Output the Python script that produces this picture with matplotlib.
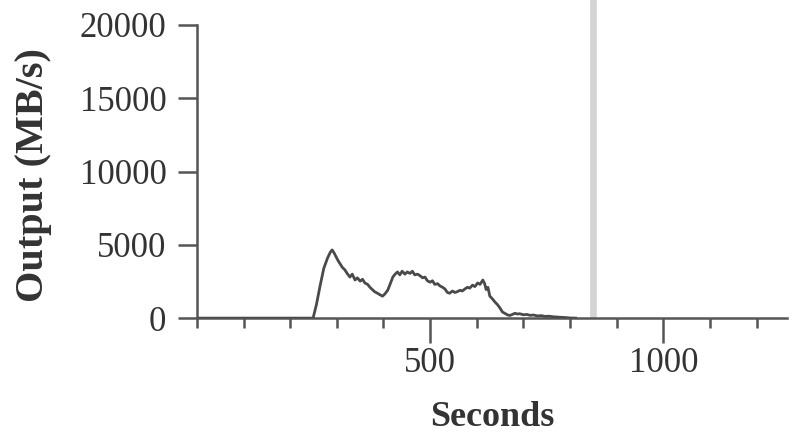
"""Output throughput over time"""
import matplotlib
matplotlib.use("Agg")
import matplotlib.pyplot as plt
from matplotlib.ticker import MultipleLocator

# data
seconds = [0, 200, 249, 256, 264, 272, 280, 286, 290, 294, 298, 303, 307, 312,
           317, 322, 328, 333, 339, 344, 350, 355, 360, 366, 371, 375, 381,
           387, 392, 398, 403, 409, 414, 420, 425, 430, 435, 440, 446, 451,
           457, 462, 467, 473, 478, 484, 489, 494, 500, 505, 510, 516, 521,
           527, 532, 537, 542, 548, 553, 558, 564, 569, 575, 580, 585, 591,
           596, 602, 607, 613, 617, 620, 624, 628, 634, 639, 645, 650, 655,
           660, 666, 671, 677, 682, 687, 692, 700, 708, 714, 722, 730, 738,
           746, 755, 765, 778, 790, 800, 812]
output = [0, 0, 0, 900, 2200, 3400, 4100, 4500, 4650, 4450, 4200, 3900, 3700,
          3450, 3300, 3050, 2800, 3000, 2600, 2750, 2520, 2650, 2400, 2300,
          2100, 1980, 1800, 1700, 1600, 1500, 1650, 1900, 2300, 2800, 3000,
          3150, 2950, 3200, 3000, 3150, 3050, 3200, 2950, 3000, 2900, 2750,
          2800, 2550, 2450, 2550, 2300, 2350, 2200, 2100, 1980, 1750, 1700,
          1850, 1750, 1800, 1900, 1850, 2000, 2100, 2050, 2250, 2150, 2400,
          2300, 2600, 2350, 1950, 2100, 1500, 1300, 1100, 900, 680, 420, 330,
          220, 180, 260, 330, 280, 300, 230, 250, 190, 210, 150, 170, 120,
          130, 90, 60, 40, 10, 0]

marker_x = 850
y_ticks = [0, 5000, 10000, 15000, 20000]
x_ticks = [500, 1000]

plt.rcParams['font.family'] = ['Liberation Serif', 'DejaVu Serif']

fig = plt.figure(figsize=(8.05, 4.34), dpi=100)
ax = fig.add_axes([0.2447, 0.267, 0.7333, 0.733])

ax.axvline(marker_x, ymin=0, ymax=1, color='#d4d4d4', linewidth=4.8, zorder=1)
ax.plot(seconds, output, color='#4a4a4a', linewidth=2.0, zorder=3)

ax.set_xlim(0, 1266)
ax.set_ylim(0, 21700)

for side in ['top', 'right']:
    ax.spines[side].set_visible(False)
for side in ['left', 'bottom']:
    ax.spines[side].set_color('#555555')
    ax.spines[side].set_linewidth(1.8)
ax.spines['left'].set_bounds(0, 20000)

ax.set_yticks(y_ticks)
ax.set_yticklabels([str(v) for v in y_ticks])
ax.set_xticks(x_ticks)
ax.set_xticklabels([str(v) for v in x_ticks])
ax.xaxis.set_minor_locator(MultipleLocator(100))

ax.tick_params(axis='y', length=14, width=1.8, color='#555555', pad=8,
               labelsize=25, labelcolor='#333333')
ax.tick_params(axis='x', which='major', length=18, width=1.8, color='#555555',
               pad=3, labelsize=25, labelcolor='#333333')
ax.tick_params(axis='x', which='minor', length=7, width=1.8, color='#555555')

ax.set_ylabel('Output (MB/s)', fontsize=29, fontweight='bold', color='#333333')
ax.yaxis.set_label_coords(-0.246, 0.45)
ax.set_xlabel('Seconds', fontsize=26, fontweight='bold', color='#333333',
              labelpad=15)

fig.savefig('out.png', dpi=100)
